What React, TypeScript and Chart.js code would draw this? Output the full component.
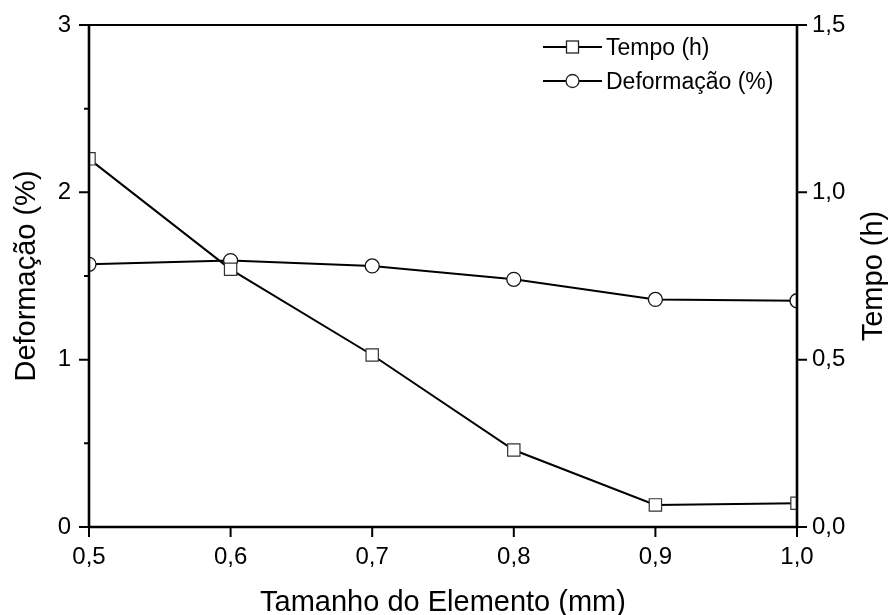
import React, { useEffect, useRef } from "react";
import { Chart, registerables } from "chart.js";

Chart.register(...registerables);

const elementSizes = [0.5, 0.6, 0.7, 0.8, 0.9, 1.0];
const tempoHours = [1.1, 0.77, 0.514, 0.23, 0.066, 0.071];
const deformacaoPct = [1.57, 1.592, 1.56, 1.48, 1.36, 1.352];

const xTicks = [0.5, 0.6, 0.7, 0.8, 0.9, 1.0];
const leftMajorTicks = [0, 1, 2, 3];
const leftMinorTicks = [0.5, 1.5, 2.5];
const rightTicks = [0, 0.5, 1.0, 1.5];

const xTitle = "Tamanho do Elemento (mm)";
const leftTitle = "Deformação (%)";
const rightTitle = "Tempo (h)";
const tempoLabel = "Tempo (h)";
const deformacaoLabel = "Deformação (%)";

const FONT = "'Liberation Sans', Arial, sans-serif";
const comma = (v: number, d: number) => v.toFixed(d).replace(".", ",");

const framePlugin = {
  id: "framePlugin",
  afterDraw(chart: any) {
    const { ctx, chartArea: a, scales } = chart;
    const xs = scales.x, yl = scales.y, yr = scales.y2;
    ctx.save();
    ctx.strokeStyle = "#000";
    ctx.lineCap = "butt";
    // frame
    ctx.lineWidth = 2.6;
    ctx.beginPath();
    ctx.moveTo(a.left, a.top - 1);
    ctx.lineTo(a.left, a.bottom);
    ctx.lineTo(a.right, a.bottom);
    ctx.lineTo(a.right, a.top - 1);
    ctx.stroke();
    ctx.lineWidth = 2;
    ctx.beginPath();
    ctx.moveTo(a.left, a.top);
    ctx.lineTo(a.right, a.top);
    ctx.stroke();
    // ticks
    ctx.lineWidth = 2;
    ctx.beginPath();
    xTicks.forEach((v) => {
      const px = xs.getPixelForValue(v);
      ctx.moveTo(px, a.bottom);
      ctx.lineTo(px, a.bottom + 10);
    });
    leftMajorTicks.forEach((v) => {
      const py = yl.getPixelForValue(v);
      ctx.moveTo(a.left, py);
      ctx.lineTo(a.left - 10, py);
    });
    leftMinorTicks.forEach((v) => {
      const py = yl.getPixelForValue(v);
      ctx.moveTo(a.left, py);
      ctx.lineTo(a.left - 5, py);
    });
    rightTicks.forEach((v) => {
      const py = yr.getPixelForValue(v);
      ctx.moveTo(a.right, py);
      ctx.lineTo(a.right + 10, py);
    });
    ctx.stroke();

    // titles
    ctx.fillStyle = "#000";
    ctx.font = `29px ${FONT}`;
    ctx.textAlign = "center";
    ctx.textBaseline = "alphabetic";
    ctx.fillText(xTitle, (a.left + a.right) / 2, 611);
    const midY = (a.top + a.bottom) / 2;
    ctx.save();
    ctx.translate(35, midY);
    ctx.rotate(-Math.PI / 2);
    ctx.fillText(leftTitle, 0, 0);
    ctx.restore();
    ctx.save();
    ctx.translate(882, midY);
    ctx.rotate(-Math.PI / 2);
    ctx.fillText(rightTitle, 0, 0);
    ctx.restore();

    // legend
    const rows = [
      { label: tempoLabel, style: "rect", base: 55 },
      { label: deformacaoLabel, style: "circle", base: 89 },
    ];
    ctx.font = `23px ${FONT}`;
    ctx.textAlign = "left";
    rows.forEach((r) => {
      const cy = r.base - 8;
      ctx.strokeStyle = "#000";
      ctx.lineWidth = 2;
      ctx.beginPath();
      ctx.moveTo(543, cy);
      ctx.lineTo(602, cy);
      ctx.stroke();
      ctx.fillStyle = "#fff";
      ctx.lineWidth = 1.3;
      ctx.strokeStyle = "#222";
      if (r.style === "rect") {
        ctx.fillRect(566.5, cy - 6, 12, 12);
        ctx.strokeRect(566.5, cy - 6, 12, 12);
      } else {
        ctx.beginPath();
        ctx.arc(572.5, cy, 6.5, 0, Math.PI * 2);
        ctx.fill();
        ctx.stroke();
      }
      ctx.fillStyle = "#000";
      ctx.fillText(r.label, 606, r.base);
    });
    ctx.restore();
  },
};

const fixV = (w: number) => (s: any) => {
  s.width = w;
  s.paddingTop = 0;
  s.paddingBottom = 0;
};

export default function App() {
  const ref = useRef<HTMLCanvasElement | null>(null);
  useEffect(() => {
    if (!ref.current) return;
    const tickFont = { family: FONT, size: 24 };
    const chart = new Chart(ref.current, {
      type: "line",
      data: {
        datasets: [
          {
            label: tempoLabel,
            data: elementSizes.map((x, i) => ({ x, y: tempoHours[i] })),
            yAxisID: "y2",
            borderColor: "#000",
            borderWidth: 2,
            pointStyle: "rect",
            pointRadius: 8.7,
            pointBackgroundColor: "#fff",
            pointBorderColor: "#333",
            pointBorderWidth: 1.2,
            clip: 0,
          },
          {
            label: deformacaoLabel,
            data: elementSizes.map((x, i) => ({ x, y: deformacaoPct[i] })),
            yAxisID: "y",
            borderColor: "#000",
            borderWidth: 2,
            pointStyle: "circle",
            pointRadius: 7,
            pointBackgroundColor: "#fff",
            pointBorderColor: "#111",
            pointBorderWidth: 1.3,
            clip: 0,
          },
        ],
      },
      options: {
        responsive: false,
        animation: false,
        devicePixelRatio: 1,
        layout: { padding: { top: 25, left: 0, right: 0, bottom: 0 } },
        plugins: { legend: { display: false }, tooltip: { enabled: false } },
        scales: {
          x: {
            type: "linear",
            position: "bottom",
            min: 0.5,
            max: 1.0,
            grid: { display: false, drawTicks: false },
            border: { display: false },
            ticks: {
              stepSize: 0.1,
              color: "#000",
              font: tickFont,
              padding: 16,
              maxRotation: 0,
              callback: (v: any) => comma(Number(v), 1),
            },
            afterFit: (s: any) => {
              s.height = 88;
              s.paddingLeft = 0;
              s.paddingRight = 0;
            },
          },
          y: {
            type: "linear",
            position: "left",
            min: 0,
            max: 3,
            grid: { display: false, drawTicks: false },
            border: { display: false },
            ticks: {
              stepSize: 1,
              color: "#000",
              font: tickFont,
              padding: 18,
              callback: (v: any) => String(Math.round(Number(v))),
            },
            afterFit: fixV(89),
          },
          y2: {
            type: "linear",
            position: "right",
            min: 0,
            max: 1.5,
            grid: { display: false, drawTicks: false },
            border: { display: false },
            ticks: {
              stepSize: 0.5,
              color: "#000",
              font: tickFont,
              padding: 15,
              callback: (v: any) => comma(Number(v), 1),
            },
            afterFit: fixV(91),
          },
        },
      },
      plugins: [framePlugin],
    } as any);
    return () => chart.destroy();
  }, []);
  return (
    <div style={{ position: "absolute", left: 0, top: 0, width: 888, height: 615, background: "#fff" }}>
      <canvas ref={ref} width={888} height={615} />
    </div>
  );
}
